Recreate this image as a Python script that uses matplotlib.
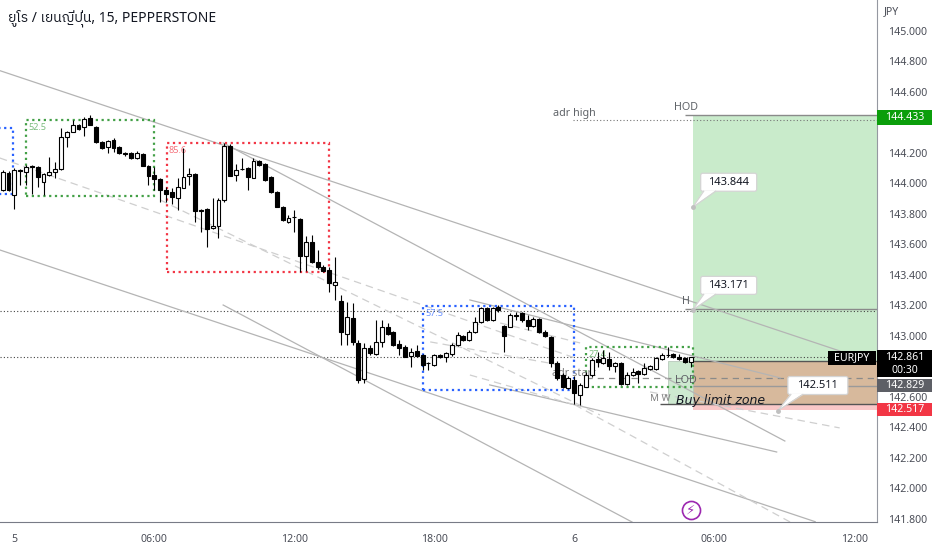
import numpy as np
import matplotlib
matplotlib.use('Agg')
from matplotlib import pyplot as plt
from matplotlib import font_manager
from matplotlib.patches import Rectangle, FancyBboxPatch, Polygon
from fontTools.ttLib import TTFont

TITLE = 'ยูโร / เยนญี่ปุ่น, 15, PEPPERSTONE'

# 15 min candles, index 0 = 23:30 on day 4
opens = [143.957, 144.071, 143.925, 144.089, 144.077, 144.112, 144.108, 144.010, 144.056, 144.075,
         144.095, 144.305, 144.338, 144.384, 144.371, 144.430, 144.371, 144.272, 144.239, 144.285,
         144.239, 144.200, 144.200, 144.167, 144.193, 144.115, 144.056, 144.030, 143.957, 143.944,
         143.905, 143.971, 144.049, 144.062, 143.826, 143.833, 143.708, 143.721, 143.892, 144.246,
         144.056, 144.095, 144.102, 144.036, 144.148, 144.128, 144.043, 143.944, 143.846, 143.748,
         143.780, 143.767, 143.525, 143.616, 143.485, 143.452, 143.433, 143.334, 143.230, 143.013,
         143.118, 142.954, 142.718, 142.921, 142.882, 142.961, 143.059, 143.026, 142.948, 142.928,
         142.869, 142.902, 142.875, 142.823, 142.807, 142.875, 142.862, 142.882, 142.941, 143.000,
         142.974, 143.026, 143.092, 143.184, 143.105, 143.190, 143.066, 143.059, 143.138, 143.151,
         143.105, 143.066, 143.112, 143.026, 142.993, 142.823, 142.744, 142.659, 142.711, 142.613,
         142.666, 142.744, 142.849, 142.823, 142.849, 142.803, 142.823, 142.685, 142.744, 142.770,
         142.751, 142.784, 142.784, 142.849, 142.875, 142.882, 142.862, 142.856, 142.830]
highs = [144.089, 144.082, 144.102, 144.095, 144.121, 144.121, 144.115, 144.069, 144.174, 144.141,
         144.364, 144.344, 144.416, 144.390, 144.436, 144.449, 144.377, 144.279, 144.285, 144.298,
         144.246, 144.207, 144.207, 144.213, 144.200, 144.121, 144.108, 144.036, 143.977, 143.971,
         144.036, 144.233, 144.102, 144.069, 143.833, 143.839, 143.905, 143.905, 144.266, 144.259,
         144.128, 144.167, 144.108, 144.167, 144.154, 144.134, 144.049, 143.951, 143.853, 143.793,
         143.826, 143.774, 143.656, 143.662, 143.564, 143.466, 143.452, 143.518, 143.269, 143.223,
         143.216, 142.974, 142.954, 142.941, 143.105, 143.105, 143.085, 143.033, 142.974, 142.941,
         142.921, 142.941, 142.882, 142.830, 142.882, 142.882, 142.895, 142.954, 143.026, 143.007,
         143.039, 143.125, 143.192, 143.190, 143.190, 143.203, 143.072, 143.151, 143.157, 143.157,
         143.138, 143.125, 143.118, 143.039, 143.000, 142.836, 142.757, 142.738, 142.738, 142.692,
         142.764, 142.856, 142.895, 142.908, 142.895, 142.830, 142.830, 142.764, 142.790, 142.777,
         142.823, 142.810, 142.862, 142.889, 142.928, 142.889, 142.882, 142.862, 142.862]
lows = [143.951, 143.951, 143.833, 143.990, 143.990, 143.931, 143.977, 143.925, 144.049, 144.036,
        144.089, 144.239, 144.338, 144.351, 144.312, 144.384, 144.266, 144.226, 144.200, 144.207,
        144.193, 144.180, 144.161, 144.161, 144.115, 143.990, 143.957, 143.879, 143.879, 143.866,
        143.826, 143.971, 143.990, 143.748, 143.682, 143.584, 143.702, 143.643, 143.879, 144.049,
        144.016, 144.089, 143.957, 144.036, 144.115, 144.016, 143.938, 143.846, 143.754, 143.741,
        143.682, 143.420, 143.426, 143.479, 143.439, 143.420, 143.289, 143.236, 142.941, 142.941,
        142.941, 142.692, 142.692, 142.875, 142.875, 142.928, 143.007, 142.934, 142.875, 142.862,
        142.797, 142.862, 142.777, 142.777, 142.800, 142.856, 142.830, 142.869, 142.934, 142.967,
        142.967, 143.020, 143.085, 143.098, 143.098, 143.157, 142.895, 143.059, 143.105, 143.092,
        143.039, 143.059, 143.020, 142.993, 142.797, 142.711, 142.659, 142.652, 142.554, 142.548,
        142.666, 142.731, 142.797, 142.816, 142.777, 142.764, 142.679, 142.679, 142.738, 142.692,
        142.744, 142.777, 142.777, 142.843, 142.862, 142.856, 142.843, 142.823, 142.797]
closes = [144.077, 143.957, 144.089, 144.082, 144.110, 144.108, 144.043, 144.062, 144.075, 144.095,
          144.305, 144.338, 144.384, 144.357, 144.423, 144.384, 144.272, 144.233, 144.279, 144.233,
          144.200, 144.193, 144.167, 144.200, 144.115, 144.049, 144.030, 143.957, 143.931, 143.912,
          143.977, 144.043, 144.062, 143.820, 143.820, 143.702, 143.721, 143.892, 144.246, 144.049,
          144.089, 144.092, 144.043, 144.148, 144.121, 144.023, 143.944, 143.846, 143.761, 143.774,
          143.777, 143.525, 143.616, 143.485, 143.452, 143.426, 143.348, 143.354, 143.026, 143.125,
          142.961, 142.711, 142.921, 142.889, 142.961, 143.059, 143.013, 142.941, 142.921, 142.862,
          142.895, 142.869, 142.807, 142.820, 142.875, 142.862, 142.889, 142.941, 143.007, 142.974,
          143.026, 143.092, 143.184, 143.105, 143.184, 143.170, 143.000, 143.138, 143.134, 143.105,
          143.066, 143.112, 143.026, 143.000, 142.823, 142.725, 142.666, 142.725, 142.626, 142.679,
          142.744, 142.843, 142.830, 142.856, 142.803, 142.823, 142.685, 142.744, 142.764, 142.751,
          142.790, 142.803, 142.856, 142.875, 142.872, 142.862, 142.849, 142.830, 142.861]

time_ticks = [2, 26, 50, 74, 98, 122, 146]
time_labels = ['5', '06:00', '12:00', '18:00', '6', '06:00', '12:00']
price_ticks = np.round(np.arange(141.8, 145.01, 0.2), 1)
hidden_ticks = [144.4, 142.8]  # covered by price tags

# session boxes (dotted)
box_x0 = [-3.0, 4.0, 28.1, 72.0, 100.0]
box_x1 = [1.8, 26.0, 56.0, 98.0, 118.4]
box_top = [144.366, 144.417, 144.264, 143.199, 142.930]
box_bot = [143.931, 143.916, 143.418, 142.646, 142.664]
box_text = ['', '52.5', '85.6', '57.5', '27.4']
box_color = ['#2962ff', '#43a047', '#f23645', '#2962ff', '#43a047']

# trend lines (index, price) -> (index, price)
trend_solid = [((-0.5, 144.740), (143.5, 142.902)),
               ((37.8, 144.266), (134.1, 142.311)),
               ((-0.5, 143.564), (139.3, 141.782)),
               ((37.8, 143.203), (107.9, 141.780)),
               ((83.5, 142.679), (132.7, 142.239)),
               ((80.1, 143.236), (133.3, 142.725))]
trend_dashed = [((-0.5, 144.167), (98.1, 142.856)),
                ((27.0, 143.892), (102.4, 142.482)),
                ((85.3, 143.085), (99.0, 142.954)),
                ((73.3, 142.961), (95.5, 142.810)),
                ((80.1, 142.744), (98.1, 142.548)),
                ((98.1, 142.548), (135.0, 141.780)),
                ((111.0, 142.633), (143.5, 142.397))]

# position tool levels
pos_start = 118.3
hod = 144.449
adr_high = 144.416
h_level = 143.176
h_dotted = 143.164
last_price = 142.861
entry = 142.833
lod_line = 142.722
mid_line = 142.672
zone_low = 142.554
stop = 142.517
target = 144.433
countdown = '00:30'
prev_close = 142.829


def find_thai_font():
    fonts = sorted(font_manager.fontManager.ttflist,
                   key=lambda f: (0 if 'Thai' in f.name else 1, f.name))
    for f in fonts:
        try:
            cmap = TTFont(f.fname, fontNumber=0, lazy=True).getBestCmap() or {}
        except Exception:
            continue
        if 0x0E22 in cmap and 0x0E39 in cmap:
            return f.name
    return None


thai = find_thai_font()
title_family = ['Noto Sans'] + ([thai] if thai else []) + ['DejaVu Sans']
plt.rcParams['font.family'] = ['Noto Sans', 'DejaVu Sans']

W, H = 932, 550
fig = plt.figure(figsize=(W / 100, H / 100), dpi=100)
ax = fig.add_axes([0, 28 / H, 877 / W, 522 / H])
ax.set_xlim(-0.46, 149.9)
ax.set_ylim(141.780, 145.203)

idx = np.arange(len(opens))
o = np.array(opens)
c = np.array(closes)
hi = np.maximum(np.array(highs), np.maximum(o, c))
lo = np.minimum(np.array(lows), np.minimum(o, c))

# candles
ax.vlines(idx, lo, hi, color='#000000', lw=0.8, zorder=3)
body = np.maximum(np.abs(c - o), 0.004)
fill = np.where(c >= o, '#ffffff', '#000000')
ax.bar(idx, body, bottom=np.minimum(o, c), width=0.68, color=fill,
       edgecolor='#000000', linewidth=0.8, zorder=4)

# long position tool
right = 149.9
ax.add_patch(Rectangle((pos_start, entry), right - pos_start, hod - entry,
                       fc='#c9ebcb', ec='none', zorder=0.5))
ax.add_patch(Rectangle((pos_start, zone_low), right - pos_start, entry - zone_low,
                       fc='#d7b99c', ec='none', zorder=0.5))
ax.add_patch(Rectangle((pos_start, stop), right - pos_start, zone_low - stop,
                       fc='#f9c8c8', ec='none', zorder=0.5))
ax.add_patch(Rectangle((114.1, zone_low), pos_start - 114.1, entry - zone_low,
                       fc='#cde9d0', ec='#b8c8bb', lw=0.6, zorder=0.6))

# horizontal levels
ax.axhline(h_dotted, color='#444444', lw=0.8, ls=(0, (1, 2)), zorder=1.5)
ax.axhline(last_price, color='#444444', lw=0.8, ls=(0, (1, 2)), zorder=1.5)
ax.hlines(adr_high, 97.8, right, color='#777777', lw=0.8, ls=(0, (1, 2)), zorder=1.5)
ax.hlines(hod, 117.0, right, color='#8a8a8a', lw=1.0, zorder=1.5)
ax.hlines(h_level, 117.0, right, color='#8a8a8a', lw=1.0, zorder=1.5)
ax.hlines(lod_line, 100.0, right, color='#8a8a8a', lw=0.9, ls=(0, (5, 4)), zorder=1.5)
ax.hlines(mid_line, pos_start, right, color='#9a9a9a', lw=1.0, zorder=1.5)
ax.hlines(entry, pos_start, right, color='#555555', lw=1.0, zorder=1.5)
ax.hlines(zone_low, 112.7, right, color='#555555', lw=1.0, zorder=1.5)

# trend lines
for (x0, y0), (x1, y1) in trend_solid:
    ax.plot([x0, x1], [y0, y1], color='#b4b4b4', lw=0.9, zorder=1.6)
for (x0, y0), (x1, y1) in trend_dashed:
    ax.plot([x0, x1], [y0, y1], color='#cfcfcf', lw=0.9, ls=(0, (6, 4)), zorder=1.6)

# session boxes
for x0, x1, t, b, txt, col in zip(box_x0, box_x1, box_top, box_bot, box_text, box_color):
    ax.add_patch(Rectangle((x0, b), x1 - x0, t - b, fill=False, ec=col, lw=1.6,
                           ls=(0, (1, 1.6)), zorder=2))
    if txt:
        ax.text(x0 + 0.4, t - 0.02, txt, color=col, alpha=0.7, fontsize=6.5,
                ha='left', va='top', zorder=2)

# annotation texts
gray = '#5f6368'
ax.text(94.3, 144.456, 'adr high', color=gray, fontsize=7.8, ha='left', va='center', zorder=5)
ax.text(117.2, 144.501, 'HOD', color=gray, fontsize=7.8, ha='center', va='center', zorder=5)
ax.text(117.2, 143.223, 'H', color=gray, fontsize=7.8, ha='center', va='center', zorder=5)
ax.text(117.2, 142.711, 'LOD', color=gray, fontsize=7.8, ha='center', va='center', zorder=6)
ax.text(111.0, 142.593, 'M W', color='#808080', fontsize=7, ha='left', va='center', zorder=6)
ax.text(94.2, 142.757, 'adr start', color='#808080', fontsize=7.8, ha='left', va='center', zorder=2.5)
ax.text(115.4, 142.580, 'Buy limit zone', color='#131722', fontsize=9, style='oblique',
        family='DejaVu Sans', ha='left', va='center', zorder=6)

# lightning icon
ax.plot(118.0, 141.859, 'o', ms=13, mfc='white', mec='#9c27b0', mew=1.2, zorder=6)
ax.text(118.0, 141.859, '\u26a1', color='#9c27b0', fontsize=9.5, ha='center', va='center',
        family='DejaVu Sans', zorder=7)

# axes styling
for s in ['top', 'left']:
    ax.spines[s].set_visible(False)
ax.spines['bottom'].set_color('#787b86')
ax.spines['right'].set_color('#9598a1')
ax.yaxis.tick_right()
ax.set_yticks(price_ticks)
ax.set_yticklabels(['' if p in hidden_ticks else f'{p:.3f}' for p in price_ticks])
ax.set_xticks(time_ticks)
ax.set_xticklabels(time_labels)
for lab in ax.get_xticklabels():
    if ':' not in lab.get_text():
        lab.set_fontweight('bold')
ax.tick_params(axis='y', length=0, pad=8, labelsize=7.6, labelcolor='#4a4d57')
ax.tick_params(axis='x', length=0, pad=9, labelsize=7.6, labelcolor='#4a4d57')

# overlay in pixel units for tags and callouts
ov = fig.add_axes([0, 0, 1, 1], zorder=10)
ov.set_xlim(0, W)
ov.set_ylim(H, 0)
ov.set_facecolor('none')
ov.axis('off')


def to_px(i, p):
    X, Y = ax.transData.transform((i, p))
    return X, H - Y


def tag(yc, text, fc, x0=877, w=55, h=15, tc='white'):
    ov.add_patch(Rectangle((x0, yc - h / 2), w, h, fc=fc, ec='none', zorder=11))
    ov.text(x0 + w / 2, yc, text, color=tc, fontsize=7.6, ha='center', va='center', zorder=12)


def callout(i, p, text, dx, dy, w=56, h=18):
    axp, ayp = to_px(i, p)
    cx, cy = axp + dx, ayp + dy
    ov.add_patch(FancyBboxPatch((cx - w / 2, cy - h / 2), w, h,
                                boxstyle='round,pad=0,rounding_size=2',
                                fc='white', ec='#d4d4d4', lw=0.9, zorder=11))
    base = cy + h / 2
    ov.add_patch(Polygon([(cx - w / 2 + 3, base - 0.8), (cx - w / 2 + 15, base - 0.8), (axp, ayp)],
                         closed=True, fc='white', ec='none', zorder=11.5))
    ov.plot([cx - w / 2 + 3, axp, cx - w / 2 + 15], [base, ayp, base], color='#d4d4d4',
            lw=0.9, zorder=11.6)
    ov.plot(axp, ayp, 'o', ms=2.5, color='#c0c0c0', zorder=11.7)
    ov.text(cx, cy, text, color='#131722', fontsize=8, ha='center', va='center', zorder=12)


callout(pos_start, 143.844, '143.844', 36, -25)
callout(pos_start, 143.171, '143.171', 36, -24.5)
callout(132.9, 142.511, '142.511', 40, -25, w=60)

# price scale tags
tag(to_px(0, target)[1], f'{target:.3f}', '#0b9e0b')
y_last = to_px(0, last_price)[1]
ov.add_patch(Rectangle((877, y_last - 7), 55, 27, fc='#000000', ec='none', zorder=11))
ov.text(904.5, y_last, f'{last_price:.3f}', color='white', fontsize=7.6,
        ha='center', va='center', zorder=12)
ov.text(904.5, y_last + 13.5, countdown, color='white', fontsize=7.6,
        ha='center', va='center', zorder=12)
tag(y_last + 0.5, 'EURJPY', '#000000', x0=828, w=48, h=14)
tag(y_last + 28.5, f'{prev_close:.3f}', '#5d5f66', h=13)
tag(to_px(0, stop)[1], f'{stop:.3f}', '#f23645', h=13)

ov.text(884, 12, 'JPY', color='#4a4d57', fontsize=7.6, ha='left', va='center')
ov.text(8, 18, TITLE, color='#131722', fontsize=10, ha='left', va='center',
        family=title_family)

fig.savefig('out.png', dpi=100)
